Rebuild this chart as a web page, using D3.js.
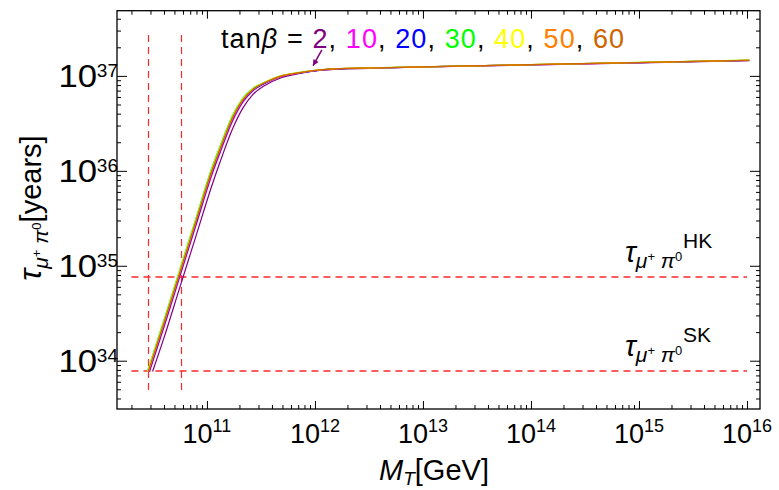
<!DOCTYPE html>
<html><head><meta charset="utf-8">
<script src="https://cdn.jsdelivr.net/npm/d3@7"></script>
<style>
body{margin:0;background:#fff}
svg{display:block}
text{font-family:"Liberation Sans",Arial,sans-serif;fill:#000}
</style>
</head><body><svg id="c" width="779" height="490"></svg>
<script>
// ---- data ----
const tanBeta = ["2", "10", "20", "30", "40", "50", "60"];
const seriesColors = ["#800080", "#ff00ff", "#0000ff", "#00ff00", "#ffff00", "#ff8000", "#cc6600"];
const tauStart = 7.71e33;                       // every curve starts on the SK bound
const mTStart = [3.14e10, 2.95e10, 2.92e10, 2.81e10, 2.83e10, 2.89e10, 2.86e10];
const mT = [4.0e10, 5.6e10, 7.9e10, 1.1e11, 1.32e11, 1.74e11, 2.15e11, 2.67e11, 3.44e11,
            4.74e11, 7.26e11, 1.11e12, 1.7e12, 3.16e12, 1e13, 1e14, 1e15, 1.05e16];
const tau2  = [1.74e34, 5.89e34, 2.04e35, 6.76e35, 1.23e36, 2.82e36, 4.57e36, 6.38e36, 7.94e36,
               9.44e36, 1.06e37, 1.14e37, 1.18e37, 1.20e37, 1.24e37, 1.30e37, 1.37e37, 1.45e37];
const tau10 = [2.24e34, 7.59e34, 2.63e35, 8.71e35, 1.53e36, 3.39e36, 5.25e36, 6.97e36, 8.32e36,
               9.77e36, 1.076e37, 1.151e37, 1.191e37, 1.208e37, 1.242e37, 1.309e37, 1.380e37, 1.459e37];
const tau20 = [2.34e34, 7.94e34, 2.75e35, 9.12e35, 1.60e36, 3.53e36, 5.41e36, 7.07e36, 8.39e36,
               9.80e36, 1.078e37, 1.152e37, 1.190e37, 1.208e37, 1.242e37, 1.310e37, 1.381e37, 1.459e37];
const tau30 = [2.69e34, 9.12e34, 3.16e35, 1.047e36, 1.81e36, 3.91e36, 5.84e36, 7.42e36, 8.63e36,
               9.97e36, 1.090e37, 1.160e37, 1.197e37, 1.213e37, 1.247e37, 1.315e37, 1.387e37, 1.465e37];
const tau40 = [2.60e34, 8.81e34, 3.05e35, 1.012e36, 1.75e36, 3.81e36, 5.73e36, 7.33e36, 8.57e36,
               9.93e36, 1.087e37, 1.158e37, 1.196e37, 1.212e37, 1.246e37, 1.314e37, 1.385e37, 1.464e37];
const tau50 = [2.43e34, 8.22e34, 2.85e35, 9.44e35, 1.65e36, 3.62e36, 5.52e36, 7.16e36, 8.45e36,
               9.84e36, 1.081e37, 1.154e37, 1.192e37, 1.209e37, 1.243e37, 1.311e37, 1.382e37, 1.460e37];
const tau60 = [2.51e34, 8.51e34, 2.95e35, 9.77e35, 1.70e36, 3.72e36, 5.62e36, 7.24e36, 8.51e36,
               9.89e36, 1.084e37, 1.156e37, 1.194e37, 1.211e37, 1.245e37, 1.312e37, 1.384e37, 1.462e37];
const seriesTau = [tau2, tau10, tau20, tau30, tau40, tau50, tau60];

const boundSK = 7.7e33, boundHK = 7.7e34;
const mTMarks = [2.86e10, 5.8e10];
const vLineSpan = [4.9e33, 2.7e37];
const hLineSpan = [2e10, 1e16];
const xMajorExp = [11, 12, 13, 14, 15, 16];
const yMajorExp = [34, 35, 36, 37];
const xDomain = [1.47e10, 1.32e16];
const yDomain = [3.1e33, 4.86e37];
const arrowFrom = [1.16e12, 1.88e37], arrowTo = [9.6e11, 1.28e37];

// ---- layout ----
const L = 117, R = 760, T = 10.7, B = 409;
const svg = d3.select("#c");
const x = d3.scaleLog().domain(xDomain).range([L, R]);
const y = d3.scaleLog().domain(yDomain).range([B, T]);

function minorTicks(dom, lo, hi) {
  const out = [];
  for (let e = lo; e <= hi; e++) for (let k = 2; k <= 9; k++) {
    const v = k * Math.pow(10, e);
    if (v > dom[0] && v < dom[1]) out.push(v);
  }
  return out;
}
const xMinor = minorTicks(xDomain, 10, 16);
const yMinor = minorTicks(yDomain, 33, 37);
const xMajor = xMajorExp.map(e => Math.pow(10, e));
const yMajor = yMajorExp.map(e => Math.pow(10, e));

function drawAxis(axisFn, scale, vals, size, tr) {
  const g = svg.append("g").attr("transform", tr)
    .call(axisFn(scale).tickValues(vals).tickSize(size).tickFormat(""));
  g.select(".domain").remove();
  g.selectAll(".tick line").attr("stroke", "#000").attr("stroke-width", 1);
}
drawAxis(d3.axisTop, x, xMajor, 8, `translate(0,${B})`);
drawAxis(d3.axisTop, x, xMinor, 4, `translate(0,${B})`);
drawAxis(d3.axisBottom, x, xMajor, 8, `translate(0,${T})`);
drawAxis(d3.axisBottom, x, xMinor, 4, `translate(0,${T})`);
drawAxis(d3.axisRight, y, yMajor, 10, `translate(${L},0)`);
drawAxis(d3.axisRight, y, yMinor, 4, `translate(${L},0)`);
drawAxis(d3.axisLeft, y, yMajor, 10, `translate(${R},0)`);
drawAxis(d3.axisLeft, y, yMinor, 4, `translate(${R},0)`);

svg.append("rect").attr("x", L).attr("y", T).attr("width", R - L).attr("height", B - T)
  .attr("fill", "none").attr("stroke", "#000").attr("stroke-width", 1.3);

// x tick labels
xMajorExp.forEach(e => {
  const t = svg.append("text").attr("x", x(Math.pow(10, e))).attr("y", 443)
    .attr("text-anchor", "middle").style("font-size", "27px");
  t.append("tspan").text("10");
  t.append("tspan").attr("dy", -11).style("font-size", "18px").text(e);
});
// y tick labels
yMajorExp.forEach(e => {
  const ty = y(Math.pow(10, e));
  svg.append("text").attr("x", L + 1).attr("y", ty + 1).attr("text-anchor", "end")
    .style("font-size", "19px").text(e);
  svg.append("text").attr("transform", `translate(${L - 20},${ty + 11}) scale(1.12,1)`)
    .attr("text-anchor", "end").style("font-size", "31px").text("10");
});

// reference lines
function dline(x1, y1, x2, y2, w) {
  svg.append("line").attr("x1", x1).attr("y1", y1).attr("x2", x2).attr("y2", y2)
    .style("stroke", "#ff2a2a").style("stroke-width", w + "px").style("stroke-dasharray", "7,5");
}
const crisp = v => Math.round(v) + 0.5;
const rowPair = v => 2 * Math.floor(v / 2) + 1;
mTMarks.forEach(m => dline(crisp(x(m)), y(vLineSpan[1]), crisp(x(m)), y(vLineSpan[0]), 1.2));
[boundHK, boundSK].forEach(b => dline(x(hLineSpan[0]), rowPair(y(b)), x(hLineSpan[1]), rowPair(y(b)), 1.6));

// curves
const line = d3.line().x(d => x(d[0])).y(d => y(d[1])).curve(d3.curveMonotoneX);
seriesTau.forEach((vals, i) => {
  const pts = [[mTStart[i], tauStart]].concat(mT.map((m, j) => [m, vals[j]]));
  svg.append("path").attr("d", line(pts)).attr("fill", "none")
    .attr("stroke", seriesColors[i]).attr("stroke-width", 1.2);
});

// title / legend
const title = svg.append("text").attr("x", 221).attr("y", 48)
  .style("font-size", "27px").style("letter-spacing", "1.1px");
title.append("tspan").text("tan");
title.append("tspan").style("font-style", "italic").text("β");
title.append("tspan").text(" = ");
tanBeta.forEach((tb, i) => {
  title.append("tspan").style("fill", seriesColors[i]).text(tb);
  if (i < tanBeta.length - 1) title.append("tspan").text(", ");
});

// arrow
const ax1 = x(arrowFrom[0]), ay1 = y(arrowFrom[1]), ax2 = x(arrowTo[0]), ay2 = y(arrowTo[1]);
svg.append("line").attr("x1", ax1).attr("y1", ay1).attr("x2", ax2).attr("y2", ay2)
  .attr("stroke", "#800080").attr("stroke-width", 1.5);
const ang = Math.atan2(ay2 - ay1, ax2 - ax1);
const hl = 6, hw = 3;
const hp = [[ax2, ay2],
  [ax2 - hl * Math.cos(ang) + hw * Math.sin(ang), ay2 - hl * Math.sin(ang) - hw * Math.cos(ang)],
  [ax2 - hl * Math.cos(ang) - hw * Math.sin(ang), ay2 - hl * Math.sin(ang) + hw * Math.cos(ang)]];
svg.append("path").attr("d", "M" + hp.join("L") + "Z").attr("fill", "#800080");

// bound labels
function boundLabel(b, sup) {
  const t = svg.append("text").attr("x", 625).attr("y", y(b) - 15).style("font-size", "29px");
  t.append("tspan").style("font-style", "italic").text("τ");
  t.append("tspan").attr("dy", 6).style("font-size", "21px").style("font-style", "italic").text("μ");
  t.append("tspan").attr("dy", -7).style("font-size", "13px").text("+");
  t.append("tspan").attr("dy", 7).style("font-size", "21px").style("font-style", "italic").text(" π");
  t.append("tspan").attr("dy", -7).style("font-size", "13px").text("0");
  t.append("tspan").attr("dy", -13).attr("dx", 1).style("font-size", "21px").text(sup);
}
boundLabel(boundHK, "HK");
boundLabel(boundSK, "SK");

// axis titles
const xt = svg.append("text").attr("x", 434).attr("y", 480).attr("text-anchor", "middle")
  .style("font-size", "29px");
xt.append("tspan").style("font-style", "italic").text("M");
xt.append("tspan").attr("dy", 5).style("font-size", "19px").style("font-style", "italic").text("T");
xt.append("tspan").attr("dy", -5).text("[GeV]");

const yt = svg.append("text").attr("transform", "translate(41,208) rotate(-90)")
  .attr("text-anchor", "middle").style("font-size", "29px");
yt.append("tspan").style("font-size", "32px").style("font-style", "italic").text("τ");
yt.append("tspan").attr("dy", 7).style("font-size", "21px").style("font-style", "italic").text("μ");
yt.append("tspan").attr("dy", -7).style("font-size", "13px").text("+");
yt.append("tspan").attr("dy", 7).style("font-size", "21px").style("font-style", "italic").text(" π");
yt.append("tspan").attr("dy", -7).style("font-size", "13px").text("0");
yt.append("tspan").attr("dy", 0).text("[years]");
</script>
</body></html>
